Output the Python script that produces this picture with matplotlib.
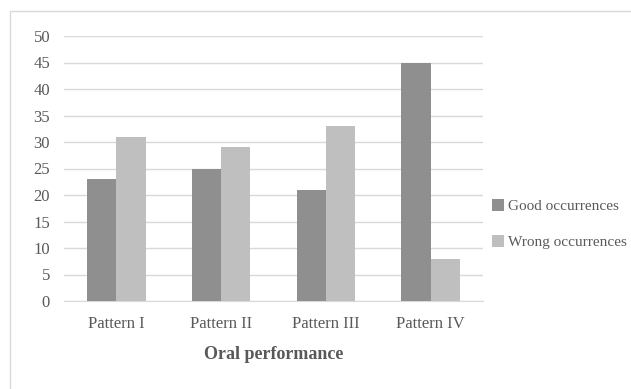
from matplotlib import pyplot as plt
from matplotlib.patches import Rectangle
import numpy as np

categories = ['Pattern I', 'Pattern II', 'Pattern III', 'Pattern IV']
good = [23, 25, 21, 45]
wrong = [31, 29, 33, 8]
yticks = [0, 5, 10, 15, 20, 25, 30, 35, 40, 45, 50]

plt.rcParams['font.family'] = ['Liberation Serif', 'DejaVu Serif']
text_col = '#595959'
grid_col = '#d9d9d9'

fig = plt.figure(figsize=(6.31, 3.89), dpi=100)
fig.patches.append(Rectangle((10 / 631, -0.1), 1.2, 1 - 11 / 389 + 0.1,
                             transform=fig.transFigure, fill=False,
                             edgecolor=grid_col, linewidth=1))
ax = fig.add_axes([64 / 631, 88 / 389, 419 / 631, 265 / 389])

x = np.arange(len(categories))
w = 0.28
ax.bar(x - w / 2, good, w, color='#8f8f8f', label='Good occurrences', zorder=3)
ax.bar(x + w / 2, wrong, w, color='#bfbfbf', label='Wrong occurrences', zorder=3)

ax.set_xlim(-0.5, 3.5)
ax.set_ylim(0, 50)
ax.set_yticks(yticks)
ax.set_xticks(x)
ax.set_xticklabels(categories)
ax.yaxis.grid(True, color=grid_col, linewidth=1, zorder=0)
for s in ['top', 'right', 'left']:
    ax.spines[s].set_visible(False)
ax.spines['bottom'].set_color(grid_col)
ax.tick_params(axis='both', length=0, colors=text_col, labelsize=12)
ax.tick_params(axis='x', pad=11)
ax.tick_params(axis='y', pad=10)
ax.set_xlabel('Oral performance', fontsize=13, fontweight='bold', color=text_col, labelpad=10)

ax.legend(loc='center left', bbox_to_anchor=(1.0, 0.29), frameon=False,
          fontsize=11, labelcolor=text_col, handlelength=0.8, handleheight=0.8,
          handletextpad=0.25, labelspacing=1.45, borderaxespad=0.2)

fig.savefig('out.png', dpi=100)
